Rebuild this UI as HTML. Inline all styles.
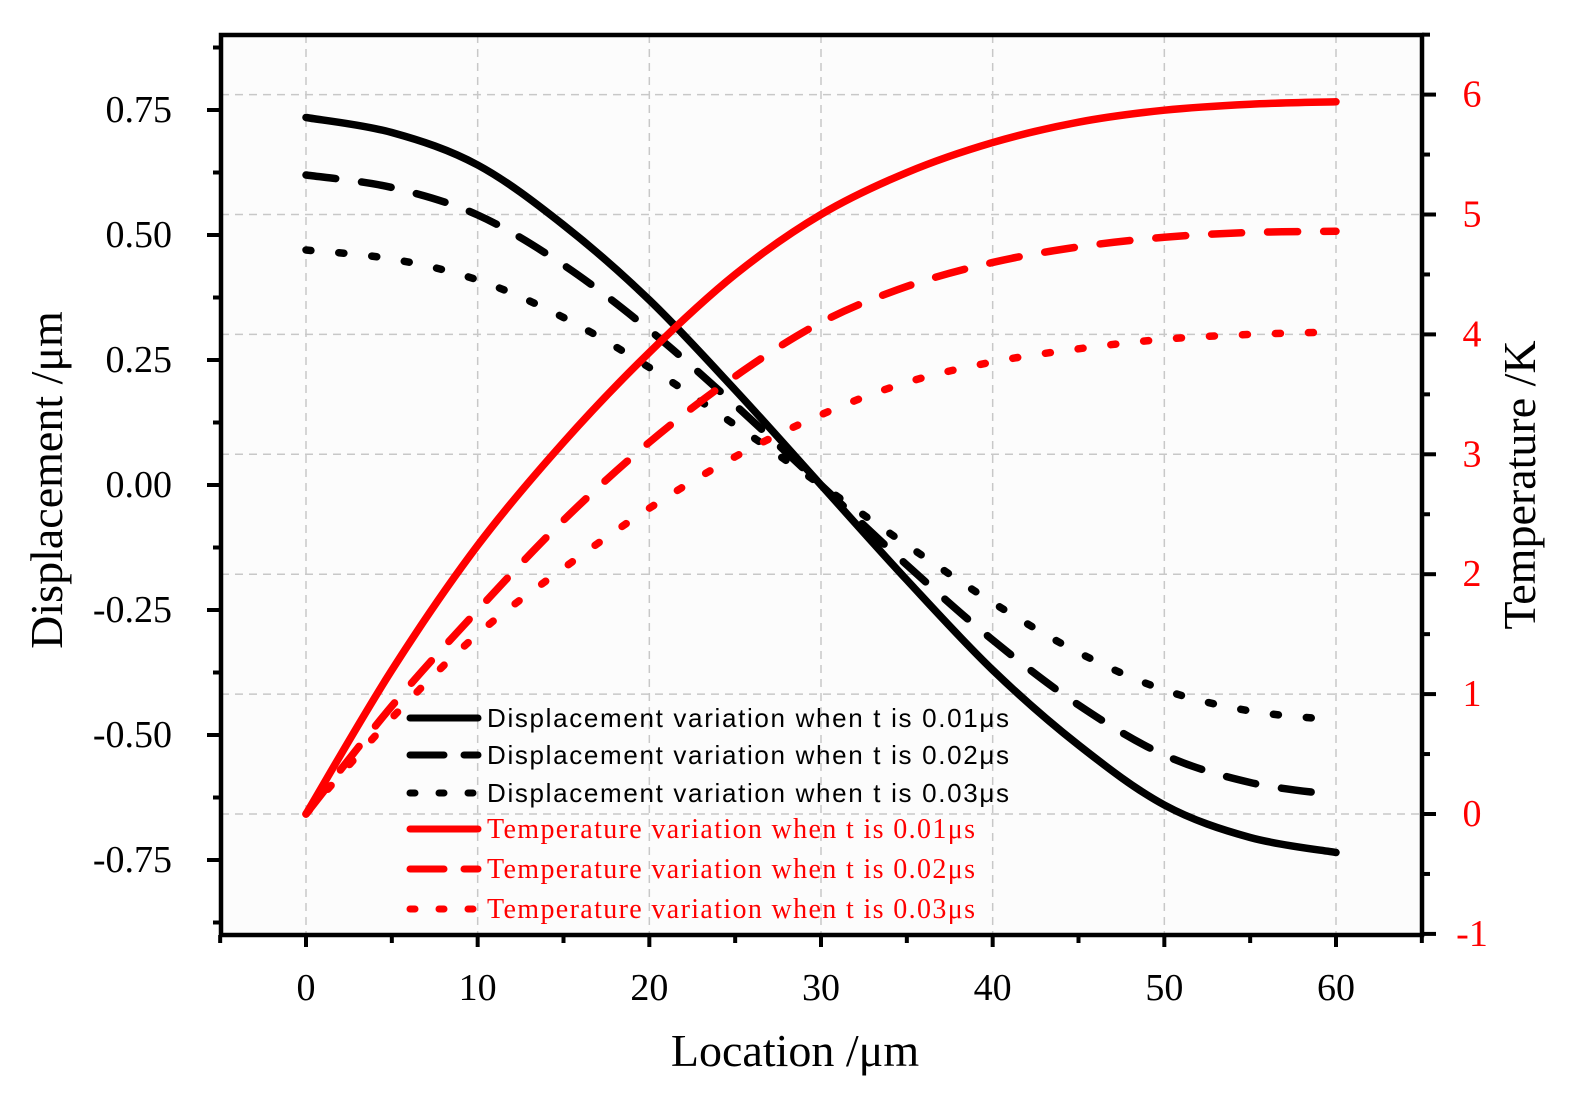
<!DOCTYPE html>
<html><head><meta charset="utf-8"><style>
body{margin:0;background:#fff}
</style></head><body>
<svg id="chart" width="1571" height="1102" viewBox="0 0 1571 1102" xmlns="http://www.w3.org/2000/svg" font-family="Liberation Serif, serif">
<rect width="1571" height="1102" fill="#fff"/>
<g id="grid"></g>
<g id="series"></g>
<g id="axes"></g>
<text x="795" y="1066" font-size="46" text-anchor="middle">Location /μm</text>
<text transform="translate(62,480) rotate(-90)" font-size="46" text-anchor="middle">Displacement /μm</text>
<text transform="translate(1535,485) rotate(-90)" font-size="46" text-anchor="middle">Temperature /K</text>
<g id="legend"></g>
</svg>
<script>
const xs=[0,5,10,15,20,25,30,35,40,45,50,55,60];
const disp1=[0.735,0.705,0.64,0.52,0.37,0.19,0,-0.19,-0.37,-0.52,-0.64,-0.705,-0.735];
const disp2=[0.62,0.595,0.54,0.44,0.31,0.16,0,-0.16,-0.31,-0.44,-0.54,-0.595,-0.62];
const disp3=[0.47,0.452,0.41,0.335,0.235,0.12,0,-0.12,-0.235,-0.335,-0.41,-0.452,-0.47];
const temp1=[0,1.2,2.24,3.1,3.85,4.5,5.0,5.35,5.6,5.77,5.87,5.92,5.94];
const temp2=[0,0.9,1.7,2.45,3.1,3.65,4.1,4.4,4.6,4.73,4.81,4.85,4.86];
const temp3=[0,0.8,1.5,2.05,2.55,2.98,3.33,3.6,3.77,3.88,3.96,4.0,4.02];
const xTicks=[0,10,20,30,40,50,60];
const yLeftTicks=[0.75,0.5,0.25,0,-0.25,-0.5,-0.75];
const yLeftLabels=["0.75","0.50","0.25","0.00","-0.25","-0.50","-0.75"];
const yRightTicks=[6,5,4,3,2,1,0,-1];
const legendLabels=["Displacement variation when t is 0.01μs","Displacement variation when t is 0.02μs","Displacement variation when t is 0.03μs","Temperature variation when t is 0.01μs","Temperature variation when t is 0.02μs","Temperature variation when t is 0.03μs"];

const L=221,R=1422,T=35,B=935;
const X=v=>306+(v)*1030/60;
const YL=v=>485-500*v;
const YR=v=>814-119.9*v;
const NS="http://www.w3.org/2000/svg";
function mk(tag,attrs,parent){const e=document.createElementNS(NS,tag);for(const k in attrs)e.setAttribute(k,attrs[k]);parent.appendChild(e);return e;}
const grid=document.getElementById('grid'),axes=document.getElementById('axes'),ser=document.getElementById('series'),leg=document.getElementById('legend');
mk('rect',{x:L,y:T,width:R-L,height:B-T,fill:'#fcfcfc'},grid);
xTicks.forEach(v=>{const g=mk('line',{x1:X(v),x2:X(v),y1:T,y2:B,stroke:'#c8c8c8','stroke-width':1.5,'stroke-dasharray':'8 6'},grid);

});
yRightTicks.forEach(v=>{const g=mk('line',{x1:L,x2:R,y1:YR(v),y2:YR(v),stroke:'#c8c8c8','stroke-width':1.5,'stroke-dasharray':'8 6'},grid);

});
function path(xa,ya){const p=xa.map((x,i)=>[X(x),ya[i]]);let d=`M${p[0][0]},${p[0][1]}`;
for(let i=0;i<p.length-1;i++){const p0=p[Math.max(0,i-1)],p1=p[i],p2=p[i+1],p3=p[Math.min(p.length-1,i+2)];
d+=` C${p1[0]+(p2[0]-p0[0])/6},${p1[1]+(p2[1]-p0[1])/6} ${p2[0]-(p3[0]-p1[0])/6},${p2[1]-(p3[1]-p1[1])/6} ${p2[0]},${p2[1]}`;}return d;}
const styles=[{c:'#000',d:''},{c:'#000',d:'30 26'},{c:'#000',d:'5 28'},{c:'#f00',d:''},{c:'#f00',d:'30 26'},{c:'#f00',d:'5 28'}];
const data=[disp1.map(YL),disp2.map(YL),disp3.map(YL),temp1.map(YR),temp2.map(YR),temp3.map(YR)];
const names=['disp-line-t001','disp-line-t002','disp-line-t003','temp-line-t001','temp-line-t002','temp-line-t003'];
data.forEach((ya,i)=>{const e=mk('path',{d:path(xs,ya),fill:'none',stroke:styles[i].c,'stroke-width':7.5,'stroke-linecap':'round','stroke-dasharray':styles[i].d},ser);

});
mk('rect',{x:L,y:T,width:R-L,height:B-T,fill:'none',stroke:'#000','stroke-width':4.5},axes);
for(let v=-5;v<=65;v+=5){const maj=v%10===0;mk('line',{x1:X(v),x2:X(v),y1:B,y2:B+(maj?12:8),stroke:'#000','stroke-width':4},axes);}
xTicks.forEach(v=>{const t=mk('text',{x:X(v),y:1000,'font-size':38,'text-anchor':'middle'},axes);t.textContent=v;

});
for(let v=-0.875;v<=0.9;v+=0.125){const maj=Math.abs(v*4-Math.round(v*4))<1e-6;mk('line',{x1:L,x2:L-(maj?14:8),y1:YL(v),y2:YL(v),stroke:'#000','stroke-width':4},axes);}
yLeftTicks.forEach((v,i)=>{const t=mk('text',{x:172,y:YL(v)+12,'font-size':38,'text-anchor':'end'},axes);t.textContent=yLeftLabels[i];

});
for(let v=-1;v<=6.5;v+=0.5){const maj=v%1===0;mk('line',{x1:R,x2:R+(maj?14:8),y1:YR(v),y2:YR(v),stroke:'#000','stroke-width':4},axes);}
yRightTicks.forEach(v=>{const t=mk('text',{x:1472,y:YR(v)+12,'font-size':38,'text-anchor':'middle',fill:'#f00'},axes);t.textContent=v;

});
const ly=[718,755,793,829,869,909];
legendLabels.forEach((s,i)=>{mk('line',{x1:410,x2:478,y1:ly[i],y2:ly[i],stroke:styles[i].c,'stroke-width':7,'stroke-linecap':'round','stroke-dasharray':i%3===1?'34 20':(i%3===2?'5 24':'')},leg);
const t=mk('text',{x:487,y:ly[i]+9,'font-size':i<3?26:28,fill:i<3?'#000':'#f00','font-family':i<3?'Liberation Sans, sans-serif':'Liberation Serif, serif',textLength:i<3?522:488,lengthAdjust:'spacing'},leg);t.textContent=s;

});
</script>
</body></html>
